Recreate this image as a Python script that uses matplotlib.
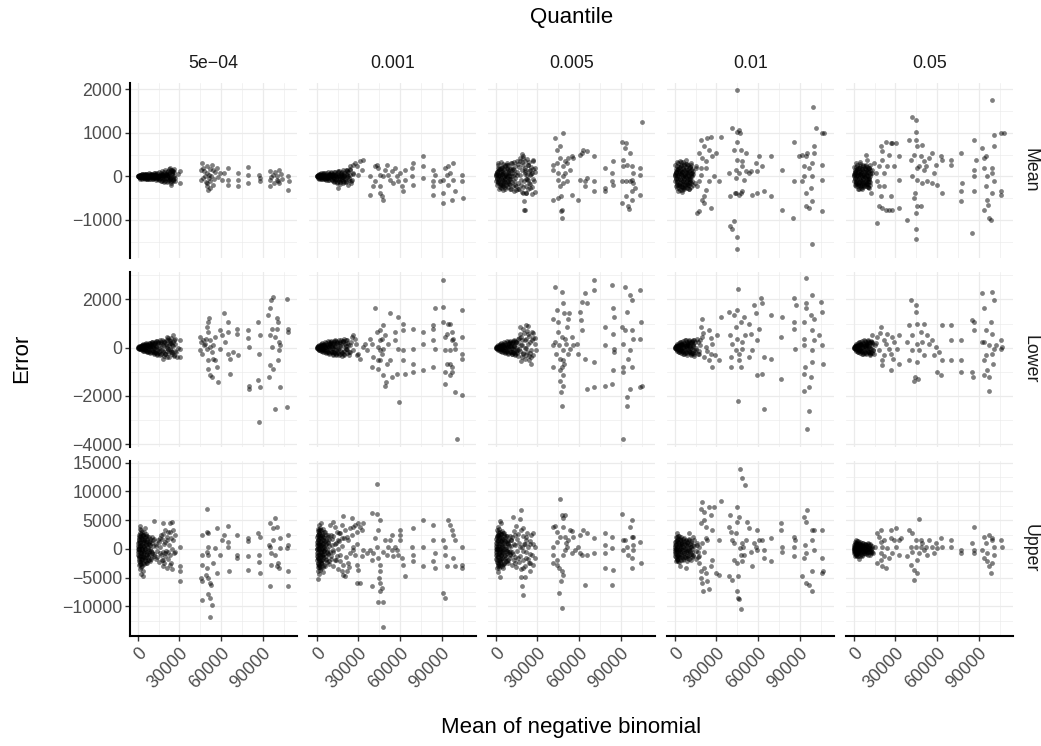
import matplotlib
matplotlib.use("Agg")
import matplotlib.pyplot as plt
from matplotlib.ticker import FixedLocator, FixedFormatter

plt.rcParams['font.family'] = ['Liberation Sans', 'DejaVu Sans']

# facet labels
quantiles = ["5e\u221204", "0.001", "0.005", "0.01", "0.05"]
stats = ["Mean", "Lower", "Upper"]

# points: (mean of negative binomial in thousands, error)
# ---- row "Mean" ----
mean_5e04 = [
    (0.5, 0), (1, 20), (1, -20), (1.5, 40), (2, -30), (2.5, 10), (3, 50), (3, -50), (3.5, 0), (4, 30),
    (4.5, -40), (5, 60), (5, -10), (6, 20), (6.5, -60), (7, 40), (7.5, -20), (8, 70), (8.5, 0), (9, -50),
    (9.5, 30), (10, -70), (10.5, 50), (11, -10), (11.5, 80), (12, -40), (12.5, 20), (13, -80), (13.5, 60),
    (14, 0), (14.5, -30), (15, 90), (15.5, -60), (16, 40), (16.5, -100), (17, 10), (17.5, 120), (18, -80),
    (18.5, 60), (19, -130), (19.5, 30), (20, 150), (20.5, -40), (21, 90), (21.5, -110), (22, 0), (22.5, 180),
    (23, -60), (23.5, 100), (24, -150), (24.5, 50), (25, 130), (25.5, -20), (26, 170), (26.5, -100),
    (20.9, 38), (23.3, 190), (24.5, 150), (25.7, 114), (25.7, -114), (23.8, -190), (30.5, 114), (30.5, -150),
    (29, 61), (46, 305), (45.6, 150), (45.6, -76), (49.7, -230), (50.9, -305), (52, -267), (48.6, 0),
    (49.7, 76), (53.3, 267), (54.5, 150), (57, 190), (59.3, 76), (60.5, -76), (62, 76), (65, 190), (65, -76),
    (65, -190), (72, 76), (72, -76), (72, -230), (79.7, 206), (79.7, 38), (79.7, -150), (87, 38), (88, -38),
    (88, -114), (95, 114), (95, -76), (95, -230), (97.7, 38), (100, 0), (101, -114), (102, 150), (102, -150),
    (108.5, 0), (109, -114), (108.5, -305), (47, -40), (48, 120), (50, -150), (51, 40), (52, -100), (53, 10),
    (55, -60), (56, 90), (58, -20), (47, 200), (50, 230), (54, -200), (51, -30), (49, -120), (52, 180),
    (96, -20), (98, -150), (99, 100), (103, 60), (104, -60), (100, -80),
]
mean_001 = [
    (0.5, 0), (1, 30), (1, -30), (1.5, 60), (2, -50), (2.5, 10), (3, 70), (3, -70), (3.5, 20), (4, -20),
    (4.5, 50), (5, -60), (5.5, 80), (6, 0), (6.5, -80), (7, 40), (7.5, -40), (8, 90), (8.5, -10), (9, -90),
    (9.5, 50), (10, -50), (10.5, 100), (11, 0), (11.5, -100), (12, 60), (12.5, -130), (13, 20), (13.5, 110),
    (14, -70), (14.5, -150), (15, 40), (15.5, 130), (16, -110), (16.5, 0), (17, -180), (17.5, 80), (18, -60),
    (19, 150), (19.5, -130), (20, 30), (21, -100), (22, 120), (23, -40), (24, 180), (25, -150), (26, 60),
    (15.6, -267), (21.6, 150), (24, 230), (26.4, 267), (27.6, 305), (28.8, 230), (31.2, 343), (33.6, 381),
    (26.4, 76), (30, 38), (22.8, 0), (25.2, -76), (19.2, -114), (32.4, 150),
    (38.4, 0), (38.4, -420), (40.8, -230), (42, -114), (42, 230), (43.2, 267), (44.4, 190), (45.6, 38),
    (45.6, -230), (45.6, -380), (46.8, -460), (48, -534), (48, 0), (49.2, 150), (50.4, 267), (51.6, 38),
    (52.8, -76), (54, 114), (55.2, -150), (56.4, 190), (57.6, 0), (58.8, -114), (60, 76), (61.2, -230),
    (62.4, -343), (63.6, 150), (63.6, -76), (68.4, 0), (68.4, 190), (69.6, 305), (69.1, -190), (76.8, 458),
    (76.8, 230), (76.8, -38), (84, 150), (84, -114), (84, -230), (84, -420), (85.2, 38), (91.2, -610),
    (91.2, -380), (91.2, -76), (92.4, 190), (93.6, 38), (94.8, -190), (96, 76), (97.2, -534), (98.4, 305),
    (98.4, -76), (99.6, -343), (104.4, 38), (104.4, -114), (105, -496), (94.8, 230), (88.8, -114),
]
mean_005 = [
    (0.5, 0), (1, 60), (1, -60), (1.5, 130), (2, -120), (2.5, 20), (3, 180), (3, -180), (3.5, 60), (4, -40),
    (4.5, 220), (5, -220), (5.5, 100), (6, -100), (6.5, 250), (7, -250), (7.5, 0), (8, 160), (8.5, -160),
    (9, 260), (9.5, -50), (10, 80), (10.5, -280), (11, 200), (11.5, -130), (12, 300), (12.5, 0), (13, -330),
    (13.5, 150), (14, -200), (15, 350), (15.5, 40), (16, -300), (17, 220), (18, -80), (19, 320), (20, -250),
    (21, 100), (22, -380), (23, 260), (24, -150), (25, 30), (26, -250), (27, 170), (1.5, 300), (2.5, -280),
    (4, 330), (5, -320),
    (19.2, 525), (19.7, 467), (20.9, 344), (21.6, -66), (22, -377), (20.2, -574), (20.9, -779), (23.3, 262),
    (24.5, 139), (25.7, 57), (26.9, 344), (28, 98), (28, -353), (14.9, -230), (17.3, 426), (20, 420),
    (21, 150), (22.3, 38), (23.5, -76), (20, -381), (20.4, -763), (24.7, -267), (27, 381), (28.3, 190),
    (27.6, -114),
    (41, 267), (41.5, 150), (41.5, -534), (42.7, 877), (43.9, 610), (44.4, 305), (45.1, 76), (45.1, -76),
    (45.1, -496), (46.3, 687), (46.3, 420), (46.3, -230), (46.8, -458), (46.8, -801), (47.5, -763),
    (48, -954), (48.7, 992), (48.7, 229), (48.7, 0), (48.7, -153), (49.9, 343), (49.9, 76), (51.1, 305),
    (51.1, -114), (52.3, 420), (53.5, 153), (54.7, 458), (54.7, -420), (55.9, 420), (59.5, -534),
    (60.7, 496), (60.7, -76), (61.9, 534), (63.1, 610), (64.3, -114), (64.3, -230), (65.5, 572),
    (65.5, -38), (71, 458), (71, -114), (71, -343), (78.7, 190), (78.7, -267), (78.7, -343), (83.5, 76),
    (83.5, -114), (84.7, 343), (84.7, -190), (90.7, 800), (90.7, -114), (90.7, -610), (91.9, 229),
    (93.1, 648), (93.8, 763), (94.3, 267), (93.8, -114), (93.8, -458), (95.5, -687), (96.2, -748),
    (96.7, 534), (96.7, -114), (97.9, 229), (97.9, -76), (97.9, -343), (97.9, -534), (99.1, 76),
    (100.3, -267), (103.9, 190), (103.9, 38), (103.9, -420), (105.1, 1259), (99.1, -153), (91.9, 381),
]
mean_01 = [
    (0.5, 0), (1, 70), (1, -70), (1.5, 150), (2, -140), (2.5, 30), (3, 210), (3, -200), (3.5, 70), (4, -50),
    (4.5, 250), (5, -240), (5.5, 110), (6, -110), (6.5, 280), (7, -270), (7.5, 0), (8, 180), (8.5, -180),
    (9, 290), (9.5, -60), (10, 90), (10.5, -300), (11, 220), (11.5, -150), (12, 250), (12.5, 0), (13, -200),
    (13.5, 120), (1.5, 320), (2.5, -330), (4, 350), (5, -350), (6, 330), (7, -300),
    (7.9, 381), (12.7, 76), (15.1, 229), (16.3, -229), (16.3, -839), (17.5, 534), (17.5, -114), (18.7, 839),
    (18.7, 38), (19.9, 420), (19.9, -534), (21.1, 687), (21.1, -458), (21.1, -610), (22.3, 190),
    (22.3, -305), (22.8, 343), (23.5, 877), (24.7, 610), (24.7, -114), (25.9, 916), (25.9, -725),
    (27.1, 458), (28.3, 0), (29.5, 534), (31.9, -114), (33.1, 916), (17.5, -801), (18.7, 190),
    (39.1, 76), (39.6, -458), (39.6, -1145), (41, 1106), (41.5, -1221), (42.7, -1030), (42.7, 610),
    (43.4, -381), (43.9, -38), (43.9, 153), (44.4, -381), (45.1, 1030), (45.1, 1984), (45.1, 801),
    (45.1, 381), (45.1, -1389), (45.1, -1679), (46.3, 1068), (46.3, 76), (46.3, -420), (46.8, 992),
    (47.5, 610), (47.5, -381), (48.2, 343), (48.7, 229), (48.7, -343), (49.9, -76), (51.1, 534),
    (51.6, 114), (53.5, 76), (54.7, 114), (55.9, -420), (58.3, 305), (59.5, 114), (59.5, -381),
    (60.7, 458), (63.1, 229), (64.3, -343), (69.1, 473), (69.1, -458), (77.5, 153), (77.5, -763),
    (86.1, 801), (86.1, -114), (85.2, -954), (92, 496), (93.1, 229), (93.1, 0), (94.3, 458), (94.3, -381),
    (94.3, -687), (95.5, 534), (96.7, 190), (96.7, -725), (97.9, -267), (99.1, 305), (99.1, 0),
    (99.1, -572), (99.6, 1602), (99.1, -1564), (100.3, 687), (100.3, 534), (101.5, 1106), (106.3, 992),
    (106.3, 267), (106.3, -76), (106.3, -801), (107.5, 992), (89.6, 458), (91.5, -114),
]
mean_05 = [
    (0.5, 0), (1, 60), (1, -60), (1.5, 130), (2, -120), (2.5, 30), (3, 190), (3, -180), (3.5, 60), (4, -40),
    (4.5, 230), (5, -220), (5.5, 100), (6, -100), (6.5, 250), (7, -240), (7.5, 0), (8, 160), (8.5, -160),
    (9, 260), (9.5, -50), (10, 90), (10.5, -250), (11, 200), (11.5, -120), (12, 150), (2, 300), (3, -300),
    (4.5, 330), (6, -300),
    (8.6, 496), (9.8, 381), (11, -267), (12.2, -381), (13.4, 153), (14.6, 305), (15.8, 76), (17, -114),
    (17, -1068), (18.2, 229), (18.2, -229), (18.2, -687), (19.4, 687), (19.4, -458), (20.6, 572),
    (20.6, -725), (20.6, 381), (21.8, 76), (21.8, -229), (23, -763), (23, 801), (24.2, 229), (25.4, -763),
    (25.4, 496), (26.6, 763), (26.6, -458), (27.8, 763), (27.8, -763), (29, 229), (30.2, 763), (32.6, -76),
    (32.6, 458), (32.6, -725),
    (38.6, -992), (39.8, 839), (41, 381), (42.2, 1373), (42.2, 0), (43.4, 496), (43.4, -496), (44.2, -381),
    (44.6, 1297), (44.6, 1030), (44.6, 839), (44.6, -839), (44.6, -1221), (44.6, -1450), (45.8, 190),
    (45.8, 687), (45.8, -76), (45.8, -687), (47, 229), (48.2, 458), (48.2, -687), (49.4, 725), (49.4, -153),
    (50.6, 343), (50.6, 153), (51.8, 229), (53, -114), (54.2, 420), (56.6, 534), (56.6, -153), (57.8, 76),
    (59, 267), (60.2, -190), (62.6, 458), (63.8, 381), (63.8, -381), (69.8, 381), (69.8, 267), (77, 534),
    (77, -343), (77, -572), (78.2, -153), (85.4, -1297), (86.6, 153), (86.6, 0), (86.6, -343), (87.8, 381),
    (86.6, 839), (92.6, 648), (93.8, 420), (93.8, 190), (95, 458), (96.2, 0), (95, -229), (96.2, -534),
    (97, -648), (97.4, -954), (98.6, -992), (99.8, 1755), (99.8, 76), (99.8, -381), (101, 687), (101, 954),
    (101, -114), (99.8, 190), (105.8, 992), (105.8, -420), (105.8, -343), (108.2, 992), (93.8, -763),
]

# ---- row "Lower" ----
lower_5e04 = [
    (0.5, 0), (1, 40), (1, -40), (1.5, 80), (2, -60), (2.5, 20), (3, 120), (3, -100), (3.5, 0), (4, 150),
    (4.5, -140), (5, 60), (5, -40), (6, 180), (6.5, -170), (7, 90), (7.5, -60), (8, 210), (8.5, 10),
    (9, -200), (9.5, 120), (10, -100), (10.5, 240), (11, -20), (11.5, -250), (12, 150), (12.5, -180),
    (13, 280), (13.5, 40), (14, -300), (14.5, 200), (15, -120), (16, 300), (17, -260), (18, 100), (19, -350),
    (20, 250), (21, -150), (22, 380), (23, -60), (24, 200), (26, -300), (27, 350), (29, 0),
    (20.9, 445), (22.5, 300), (25.7, 514), (26.8, -140), (28, -390), (30.5, 306), (30.5, -50), (20.9, -390),
    (18.5, -460), (24.5, -250), (25.7, 236), (30.5, -390),
    (44.9, 445), (45.6, 236), (46, -250), (45, -111), (49.7, 862), (50.9, 1070), (51.6, 1210), (50.9, 653),
    (52, 306), (48.5, 167), (49.7, -42), (50.9, -528), (50.4, -876), (52, -1154), (53.3, -1223),
    (54.5, -459), (55.7, -528), (56.9, -806), (58, -1432), (59.3, -42), (59.3, 723), (60.5, 514),
    (62, 1446), (62.9, 236), (65, 1070), (65, 653), (65, -250), (66.5, -1084), (66.5, -459), (68.9, -180),
    (71.8, 792), (71.8, 584), (72, -320), (79.7, 723), (79.7, 417), (80.4, 28), (80.4, -1570),
    (80.4, -1710), (86.9, 1070), (88, 514), (87.6, -250), (88, -1640), (86.9, -1320), (87.6, -3100),
    (94, 1348), (95.3, 1626), (95.8, 1973), (97.7, 2085), (96.5, 792), (95.3, 514), (96.5, 28),
    (95.3, -737), (94.8, -1223), (97.7, -876), (98.9, -2544), (100, 1210), (100, 792), (101, 1070),
    (102, 236), (102, -111), (102.5, -1640), (101, -528), (107.8, 2000), (108.5, 792), (108.5, 653),
    (107.8, -2474), (102.5, 97), (98.9, 445), (47.3, 306), (47.8, 97), (49.2, 375), (52, 28), (54.5, 97),
    (55.7, 445), (53.3, -180),
]
lower_001 = [
    (0.5, 0), (1, 50), (1, -50), (1.5, 100), (2, -100), (2.5, 30), (3, 150), (3, -150), (3.5, 0), (4, 200),
    (4.5, -180), (5, 80), (5, -60), (6, 230), (6.5, -230), (7, 120), (7.5, -90), (8, 270), (8.5, 20),
    (9, -260), (9.5, 160), (10, -120), (10.5, 280), (11, -20), (11.5, -290), (12, 170), (12.5, -190),
    (13, 300), (13.5, 60), (14, -300), (14.5, 210), (15, -100), (16, 320), (16.5, -250), (17, 80),
    (18, -330), (19, 250), (19.5, -150), (20, 350), (21, -50), (22, 200), (23, -300), (24, 100),
    (25.2, 445), (26.4, 514), (27.6, 375), (28.8, -320), (31.2, -459), (24, -180), (21.6, 306), (33.6, 28),
    (34.8, 167), (36, -111), (38.4, 375), (39.6, 167), (39.6, -806), (40.8, -390),
    (42, 1626), (43.2, 653), (44.4, 28), (44.4, -528), (44.4, -876), (45.6, 723), (45.6, 306), (45.6, -111),
    (45.6, -528), (46.8, 375), (46.8, -250), (48, 931), (48, -42), (48, -1154), (49.2, 514), (49.2, -1570),
    (49.7, -1432), (50.4, -667), (51.6, 167), (52.8, 1418), (52.8, -528), (54, -1223), (56.4, 653),
    (56.4, 306), (57.6, -1084), (58.8, -42), (58.8, 1279), (59.5, -2266), (62.4, 1001), (62.4, 723),
    (62.4, -111), (62.4, -528), (63.6, -1084), (69.6, 792), (69.6, -42), (69.6, -1015), (69.6, -667),
    (76.8, 167), (76.8, -945), (76.8, 653), (84, 931), (84, 306), (84, 792), (85.2, 1626), (85.2, -42),
    (84, -806), (91.2, 1696), (91.2, 1070), (92.4, 445), (92.4, -111), (93.6, 584), (94.8, 1001),
    (96, -111), (96, -667), (97.2, 653), (97.2, -1015), (97.7, -806), (96, -1154), (98.4, 375),
    (99.6, 167), (99.6, -42), (92.4, -1015), (92.4, -1500), (93.6, -667), (91.2, 2808), (99.6, -1850),
    (100.8, -3795), (104.4, 1557), (104.4, 445), (104.4, -250), (104.4, -459), (104.4, -1960), (96, 1001),
    (97.2, 306),
]
lower_005 = [
    (0.5, 0), (1, 40), (1, -40), (1.5, 90), (2, -90), (2.5, 20), (3, 140), (3, -140), (3.5, 0), (4, 190),
    (4.5, -170), (5, 70), (5, -60), (6, 220), (6.5, -230), (7, 110), (7.5, -100), (8, 270), (8.5, 20),
    (9, -260), (9.5, 150), (10, -120), (10.5, 290), (11, -30), (11.5, -280), (12, 180), (12.5, -200),
    (13, 300), (13.5, 60), (14, -300), (14.5, 220), (15, -100), (16, 350), (17, -50),
    (17.3, 847), (19.7, 770), (22, 924), (23.3, 878), (20.9, 308), (19.7, -231), (18.5, -539), (26.9, 385),
    (28, 154), (25.7, -385), (24.5, -231), (21.6, 0), (28.8, -77), (25.7, -693), (18, 450), (23, 550),
    (24, -500), (19, 100), (27, 620), (22, -300),
    (42.7, 2530), (41.5, 1209), (41.5, 97), (41.5, -806), (42.7, 236), (43.4, -250), (44, 1557),
    (45.1, 1070), (45.1, 653), (45.8, 97), (46.3, -459), (46.3, -945), (46.3, -1362), (46.8, -1849),
    (47.5, 2321), (47.5, 445), (47.5, -806), (48.2, -528), (48.2, -1154), (48.7, 1835), (49.2, 1418),
    (48.7, -111), (49.2, -667), (49.9, 375), (48.7, -1570), (47.5, -2432), (50.6, 167), (51.1, 862),
    (52.3, 1209), (52.3, -250), (53, 1418), (53.5, -42), (54.7, 445), (55.9, 97), (58.3, 167),
    (59.5, -250), (60.7, 1487), (61.2, 1140), (61.9, 1904), (61.9, 723), (64.3, 2252), (64.3, -459),
    (65.5, 1835), (65.5, -1710), (71, 2808), (71, 2391), (71, -598), (71, -1640), (78.7, 862), (78.7, 97),
    (78.7, -1570), (83.5, 2600), (84.7, 1626), (85.2, 1279), (84.7, 584), (85.2, -42), (84.7, -945),
    (85.2, -180), (83.5, -1500), (90.7, 862), (91.9, 167), (91.9, -806), (91.9, -1015), (93.1, 2530),
    (93.1, 723), (94.3, 1487), (95.5, -459), (96.7, 2182), (96.7, -1710), (97.9, 1974), (97.9, 723),
    (97.9, -806), (99.1, 375), (94.3, -2057), (94.8, -2405), (91.9, -3795), (103.9, 2391), (104.4, 1070),
    (103.9, 375), (105.1, -1570), (103.9, -1640), (96.7, -111),
]
lower_01 = [
    (0.5, 0), (1, 60), (1, -60), (1.5, 120), (2, -120), (2.5, 30), (3, 180), (3, -180), (3.5, 0), (4, 230),
    (4.5, -210), (5, 90), (5, -80), (6, 270), (6.5, -260), (7, 130), (7.5, -110), (8, 300), (8.5, 20),
    (9, -290), (9.5, 170), (10, -140), (10.5, 310), (11, -30), (11.5, -300), (12, 190), (12.5, -210),
    (13, 320), (13.5, 60), (14, -330), (14.5, 230), (15, -100), (16, 350), (17, -280), (18, 120),
    (19.9, 1209), (18.7, 862), (19.9, 445), (22.3, 28), (17.5, -250), (21.1, -390), (24.7, 723),
    (24.7, -528), (25.9, -250), (27.1, 167), (30.7, 514), (33.1, 1279), (31.9, -528), (27.1, -806),
    (20.5, 600), (23, -150), (26, 400), (18, 300), (29, -300),
    (39.1, 1487), (39.6, 514), (40.3, -390), (40.3, -806), (41.5, 167), (42.7, 1348), (43.9, 862),
    (43.9, -111), (45.1, 1557), (45.1, 375), (45.8, 2432), (45.8, -2196), (46.3, -250), (46.3, -528),
    (47.5, 1070), (47.5, -806), (48.7, 236), (48.7, -42), (49.9, 1279), (50.6, 514), (53.5, 1001),
    (53.5, -390), (54.7, 584), (55.9, -111), (57.1, 1765), (58.8, 1418), (59.5, 306), (59.5, -1154),
    (60.7, 792), (61.9, 2043), (63.1, -1084), (63.1, 1835), (64.3, -390), (64.3, -2544), (69.1, 1348),
    (69.1, -459), (76.3, 445), (76.3, -1293), (77.5, 1279), (86.1, 2043), (86.1, 1070), (86.1, 792),
    (86.9, -42), (87.6, 1765), (93.1, 1070), (93.1, 375), (93.1, 97), (94.3, 1835), (94.3, 1626),
    (93.1, -1084), (93.8, -806), (93.1, -1779), (96.7, -1640), (96.7, -2613), (95.5, -3378), (97.9, 1348),
    (99.1, 2182), (99.1, 723), (100.3, 1209), (100.3, 306), (99.1, -111), (98.6, -598), (97.9, -1223),
    (94.3, 2877), (105.1, 1904), (106.3, 1487), (106.3, 97), (106.8, -667), (103.9, 514),
]
lower_05 = [
    (0.5, 0), (1, 60), (1, -60), (1.5, 120), (2, -120), (2.5, 30), (3, 180), (3, -170), (3.5, 0), (4, 230),
    (4.5, -210), (5, 90), (5, -80), (6, 260), (6.5, -250), (7, 130), (7.5, -110), (8, 290), (8.5, 20),
    (9, -280), (9.5, 170), (10, -140), (10.5, 300), (11, -30), (11.5, -290), (12, 190), (12.5, -200),
    (13, 250), (14, -100),
    (13.4, 514), (17, 445), (18.2, -111), (19.4, 862), (20.6, -528), (20.6, -737), (21.8, 306), (23, 167),
    (24.2, 584), (25.4, -42), (26.6, -250), (26.6, -945), (27.8, 445), (29, 236), (32.6, 514), (32.6, -667),
    (31.4, -42), (16, 200), (22, -300), (28, -450), (19, 600),
    (38.6, 236), (39.8, 931), (39.8, -528), (41, 1974), (42.2, 514), (42.2, -111), (43.4, -1362),
    (44.2, -1223), (44.6, 1765), (44.6, 1487), (45.8, 1001), (45.8, 167), (45.8, -598), (46.6, -1293),
    (47, -111), (48.2, 653), (49.4, 236), (50.6, 1001), (50.6, -320), (53, 514), (54.2, 167), (56.6, 306),
    (57.8, -320), (59, 28), (60.2, -1015), (61.4, -180), (62.6, -1154), (63.8, 931), (63.8, -528),
    (69.8, 931), (69.8, 306), (69.8, -528), (77, 306), (77, -528), (77, -1015), (85.4, 1140), (86.6, 1070),
    (85.4, -1015), (85.9, -1223), (86.6, 723), (92.6, 2252), (92.6, 236), (93.8, 1626), (93.8, 236),
    (93.8, -528), (93.8, -1154), (95, -320), (96.2, -945), (97.4, -1223), (97.4, -1779), (98.6, 1070),
    (99.8, 2321), (99.8, 584), (99.8, -250), (100.3, -667), (101, 1974), (101, -42), (102.2, 97),
    (105.8, 306), (105.8, -42), (107, 28), (95, 723), (97.4, 97),
]

# ---- row "Upper" ----
upper_5e04 = [
    (0.5, 0), (0.8, 1500), (0.8, -1500), (1, 2500), (1, -2800), (1.3, 500), (1.5, -500), (1.8, 3500),
    (2, -3500), (2, 1000), (2.2, -1200), (2.5, 2000), (2.5, -2200), (3, 0), (3, 3000), (3, -3000),
    (3.5, 1500), (3.5, -1500), (4, 2500), (4, -4700), (4, 500), (4.5, -800), (5, 2000), (5, -2000),
    (5.5, 0), (6, 1200), (6, -1400), (6.5, 2200), (7, -500), (7, -2500), (7.5, 800), (8, -1000),
    (8.5, 1800), (9, 0), (9.5, -1700), (10, 1000), (10.5, -600), (11, 1500), (12, -1200), (13, 500),
    (14, -1500), (15, 1200), (16, -800), (17, 2500), (18, -2000), (19, 800), (20, -1200), (21, 2000),
    (22, -500), (23, 3000), (24, -2500), (25, 0), (1.5, 4000), (2.5, -4400), (5, 3700), (3.5, -3800),
    (12, 4830), (18.5, 4430), (23.3, 4430), (24.5, 4715), (20, 3280), (20.9, 1550), (19.7, -750),
    (20.9, -3335), (23.3, -2760), (25.7, 1550), (26.9, 2415), (26.9, -460), (30.5, 400), (30.5, -3050),
    (30.5, -3900), (30.5, -5635), (16, 1840), (17.3, -1900), (18.5, -3050),
    (46, 2415), (46, -1035), (46, -2760), (45.4, -5060), (46, -5635), (46, -8970), (49.7, 7015),
    (49.7, 2990), (50.9, 2700), (50.4, 400), (49.7, -460), (50.9, -1035), (49.7, -3335), (49.2, -4485),
    (50.9, -5060), (52, -5920), (52.5, -6210), (50.9, -7935), (52, -8510), (53.3, -9775), (52, -11845),
    (54.5, -2470), (56.9, 3565), (57.4, -4200), (55.7, 115), (59.3, -1035), (60.5, 1550), (62, 2415),
    (65, 3970), (65, 1265), (65, 400), (65.5, -3910), (71.8, 2415), (71.8, -1035), (71.8, -1610),
    (79.7, 1840), (79.7, 1380), (79.7, -1320), (79.7, -3620), (86.9, 2700), (88, 2130), (87.6, -1035),
    (87.6, -2360), (88, -4200), (95.3, 4430), (94.8, 690), (95.3, 400), (95.8, -750), (95.3, -6500),
    (95.8, -2760), (98.9, 5460), (97.7, 3565), (100, 3850), (97.7, 1550), (98.9, -1035), (101, -2470),
    (100, -3050), (102.5, 1840), (102.5, 115), (102, -3335), (108.5, 2415), (108.5, 690), (107.8, 115),
    (108.5, -3910), (108.5, -6380),
]
upper_001 = [
    (0.3, 0), (0.5, 2000), (0.5, -2000), (0.8, 3500), (0.8, -3800), (1, 1000), (1, -1000), (1.3, 2800),
    (1.3, -2800), (1.5, 0), (1.8, 1800), (1.8, -1700), (2, 4200), (2, -4300), (2.2, 600), (2.5, -600),
    (2.5, 2500), (2.8, -2500), (3, 1400), (3, -3300), (3.3, 3200), (3.5, -1200), (3.5, 200), (4, 2200),
    (4, -2000), (4.3, -400), (4.5, 900), (5, -2800), (5, 3000), (5.5, -900), (5.5, 1600), (6, 0),
    (6.5, -1800), (7, 2400), (7.5, -500), (8, 1200), (8.5, -2200), (9, 500), (10, -1200), (11, 1800),
    (12, -600), (13, 900), (14, -2000), (15, 0), (16, 1300), (1.2, -5200), (2.8, 4500), (4.2, -4000),
    (8.4, 2130), (9.6, 4140), (12, 4715), (13.2, 3850), (14.4, 2990), (15.6, 1550), (16.8, 2700),
    (18, 1840), (18, 4140), (19.2, 5690), (20.4, 3280), (21.6, 2130), (22.8, 1550), (24, 3565),
    (25.2, 5290), (25.2, 2415), (26.4, 3850), (27.6, 4140), (28.8, 2990), (30, 4430), (31.2, 3740),
    (32.4, 3280), (33.6, 4430), (12, -170), (14.4, -1320), (16.8, -2185), (18, -3910), (19.2, -4485),
    (20.4, -4770), (21.6, -3910), (22.8, -2470), (24, -750), (26.4, 400), (27.6, -1035), (28.8, -2760),
    (30, -3620), (28.8, -5920), (31.2, -5920), (32.4, -1320), (33.6, -170), (36, -750), (38.4, -170),
    (39.6, -1900), (40.8, -750), (39.6, -6500), (39.6, 6325), (43.2, 6150), (44.4, 3280), (45.6, 5000),
    (43.2, 11330), (42, 1840), (43.2, 400), (44.4, -1610), (45.6, -2760), (45.6, -3910), (45.1, -5060),
    (45.6, -5920), (46.8, -6785), (45.6, -7360), (44.4, -9260), (48, -9260), (48, -13570), (48, -460),
    (49.2, 1550), (50.4, -1035), (51.6, 400), (52.8, 1550), (54, 2415), (54, -170), (55.2, -1320),
    (56.4, 400), (57.6, -170), (58.8, -1035), (60, 2415), (60, 1550), (61.2, -1610), (62.4, -2760),
    (63.6, -4770), (60, 3280), (68.4, 400), (69.6, -1035), (69.6, 3565), (69.6, -2185), (76.8, 5000),
    (76.8, 400), (76.8, -3050), (84, 4140), (84, 1550), (84, -2185), (85.2, -750), (85.2, -3335),
    (91.2, 1550), (92.4, 400), (92.4, -1035), (91.2, -7650), (92.4, -8500), (93.6, -3050), (94.8, 5000),
    (96, 4140), (97.2, 3280), (98.4, 2415), (98.4, -1610), (99.6, -3050), (99.6, 1550), (104.4, 400),
    (104.4, -2760), (104.4, -3335),
]
upper_005 = [
    (0.3, 0), (0.5, 1800), (0.5, -1800), (0.8, 3200), (0.8, -3300), (1, 900), (1, -900), (1.3, 2500),
    (1.3, -2600), (1.5, 0), (1.8, 1600), (1.8, -1500), (2, 3800), (2, -4000), (2.2, 500), (2.5, -500),
    (2.5, 2200), (2.8, -2300), (3, 1300), (3, -3000), (3.3, 2900), (3.5, -1100), (3.5, 200), (4, 2000),
    (4, -1800), (4.5, -300), (4.5, 800), (5, -2600), (5, 2700), (5.5, -800), (6, 1500), (6.5, 0),
    (7, -1700), (7.5, 2200), (8, -400), (8.5, 1000), (9, -2000), (9.5, 500), (10, -1000), (11, 1600),
    (12, -500), (13, 900), (14, -1500),
    (3.4, 4880), (4, 4575), (12.5, 5490), (17.3, 5185), (18.5, 6710), (19.7, 3660), (14.9, 3965),
    (13.7, 2440), (22, 2135), (24.5, 915), (26.9, 2745), (28, 305), (20.9, 915), (19.7, -305), (22, -1525),
    (24.5, -2440), (19.7, -3355), (18.5, -4880), (20.9, -4880), (18.6, -6405), (19.7, -8050),
    (26.9, -2745), (28, -1525), (24.5, -915), (17.3, 305), (16, -1525), (13.7, -2440), (10, -305),
    (11.3, 1525), (5.3, -3355), (3.4, -4880),
    (41.5, 3740), (42.7, 3970), (44, 2990), (46.3, 8740), (47.5, 5865), (48.7, 5290), (49.9, 5865),
    (48.2, 3740), (46.3, 2130), (44, 1265), (41.5, 400), (41, -1035), (41.5, -2470), (44, -1900),
    (44.4, -2760), (45.8, -3335), (47.5, -3910), (48.2, -4485), (46.8, -5635), (45.8, -7760),
    (47.5, -10235), (48.7, -1035), (49.9, -170), (49.9, 2130), (50.6, 980), (51.1, 400), (52.3, 1550),
    (53.5, 3280), (54.7, 3160), (55.9, 2130), (54.7, -750), (57.1, -170), (59.5, 400), (60.7, 2415),
    (60.7, -750), (61.9, -1035), (63.1, 3280), (64.3, -6210), (65.5, 2700), (65.5, -1035), (71, 1840),
    (71, -750), (78.7, 2700), (78.7, 690), (78.7, -750), (78.7, -3335), (83.5, 2130), (83.5, 115),
    (84.2, -3620), (83.5, -6210), (90.7, 6150), (91.9, 1550), (91.9, -170), (93.1, 1550), (94.3, 400),
    (95.5, -1035), (96.7, 3740), (97.9, 5000), (97.9, 2130), (97.9, -1610), (97.9, -3335), (99.1, 690),
    (99.1, -170), (103.9, 1265), (104.4, -2470), (99.1, 2130),
]
upper_01 = [
    (0.3, 0), (0.5, 1200), (0.5, -1200), (0.8, 2000), (0.8, -2100), (1, 600), (1, -600), (1.5, 1600),
    (1.5, -1700), (2, 0), (2.5, 1000), (2.5, -1000), (3, 2200), (3, -2300), (3.5, 300), (4, -300),
    (4.5, 1500), (5, -1500), (5.5, 800), (6, -2000), (6.5, 1900), (7, -700), (7.5, 200), (8, 1300),
    (8.5, -1200), (9, -200), (9.5, 600), (10, -1800), (10.5, 1800), (11, -500), (12, 1000), (12.5, 0),
    (13, -1100), (14, 1500), (15, -300), (16, 700), (17, -1500), (2, 2800), (4, -2900),
    (10.3, 2700), (9.1, -2185), (7.9, -3335), (17.5, 400), (18.7, 4430), (18.7, 7015), (19.9, 8165),
    (21.1, 5000), (21.1, 6440), (22.3, 3850), (22.3, 1840), (23.5, 1550), (24.7, 7300), (25.9, 5865),
    (27.1, 3280), (28.3, 7300), (31.9, 1550), (33.1, 8340), (17.5, -1320), (17.5, -2470), (18.7, -3910),
    (18.7, -5060), (19.9, -5920), (20.4, -7360), (21.1, -3335), (22.3, -4200), (23.5, -5635),
    (24.7, -7070), (25.9, -3050), (27.1, -1900), (29.5, -4200), (31.9, -4485), (21.1, -460), (19.4, 980),
    (39.1, 3740), (39.6, 5865), (39.1, -4770), (40.3, 2990), (41.5, 1550), (41.5, -5350), (42.7, 980),
    (42.7, -1900), (43.9, 2700), (45.1, 7300), (45.1, 4715), (45.1, -2470), (45.8, -4770), (45.1, -7360),
    (45.8, -8510), (46.3, -8800), (47.5, -10520), (46.3, 5580), (46.8, 115), (47.5, -1035), (48.2, -2185),
    (48.7, 980), (49.2, 400), (49.9, -1035), (51.1, 1550), (52.3, 4715), (53.5, 3565), (54.7, -460),
    (55.9, -3050), (57.1, 980), (58.3, 400), (59.5, 3280), (59.5, -170), (60.7, 1550), (63.1, 1550),
    (64.3, -170), (64.3, -1610), (69.1, 1840), (69.1, -2185), (76.3, 4430), (76.3, 3280), (77.5, 400),
    (77.5, -460), (86.1, 2130), (86.1, 400), (86.1, -1320), (86.9, 1550), (93.1, 5580), (94.3, 4715),
    (95.5, 6725), (93.8, 690), (94.3, -750), (93.1, -1610), (92, -4770), (94.3, -5920), (96.7, -6210),
    (98.6, -7360), (99.1, 1550), (99.1, -3910), (100.3, 3280), (100.3, -170), (99.1, 3280), (106.3, 3280),
    (106.3, -1610), (106.8, -3910), (106.3, -4200), (46.8, 13900), (48.5, 12300), (50.5, 11100),
]
upper_05 = [
    (0.3, 0), (0.5, 700), (0.5, -700), (0.8, 1200), (0.8, -1200), (1, 300), (1, -300), (1.5, 1000),
    (1.5, -1000), (2, 0), (2.5, 600), (2.5, -600), (3, 1300), (3, -1300), (3.5, 200), (4, -200),
    (4.5, 900), (5, -900), (5.5, 500), (6, -1200), (6.5, 1100), (7, -400), (7.5, 100), (8, 800),
    (8.5, -700), (9, -100), (9.5, 400), (10, -1100), (10.5, 1000), (11, -300), (12, 600), (12.5, 0),
    (13, -600), (1.5, 1600), (3.5, -1700),
    (13.4, 115), (17, 2700), (17, -2470), (18.2, 2130), (19.4, 3280), (19.4, 1265), (19.4, -750),
    (19.4, -1900), (20.6, 400), (20.6, -3050), (21.8, 1550), (21.8, -1320), (23, -3335), (24.2, 115),
    (25.4, -1610), (26.6, 1840), (26.6, 3280), (27.8, -750), (29, 1550), (30.2, 400), (32.6, 1550),
    (32.6, -1035), (33.8, 1840), (30.2, 3565),
    (38.6, -1320), (39.8, 3280), (41, 400), (41, -2760), (42.2, -460), (42.2, 2700), (43.4, -3620),
    (43.4, -5350), (44.6, 1550), (44.6, 400), (45.8, -1900), (45.8, -4200), (47, 5115), (47, -750),
    (48.2, 1550), (48.2, 400), (49.4, 980), (50.6, -170), (51.8, 400), (53, -1035), (54.2, 1550),
    (56.6, 400), (57.8, -750), (59, 980), (60.2, 115), (62.6, 1840), (63.8, 400), (69.8, 1550),
    (69.8, 400), (77, -170), (77, -750), (85.4, 980), (86.6, 3740), (86.6, -170), (86.6, -750),
    (92.6, -170), (93.8, 2130), (93.8, -1610), (95, 980), (96.2, -750), (96.2, -2185), (97.4, 2415),
    (97.4, -3050), (98.6, -4200), (99.3, 1550), (99.8, 1840), (101, 400), (101, -1035), (99.8, -2470),
    (105.8, 1550), (107, 400),
]

# dense cores near zero (the solid black blobs)
core_mean_5e04 = [
    (0.3, 10), (0.7, -15), (1.2, 5), (1.8, -5), (2.2, 25), (2.8, -25), (3.3, 15), (3.8, -10), (4.2, 45),
    (4.8, -45), (5.3, 20), (5.8, -30), (6.2, 55), (6.8, -50), (7.2, 10), (7.8, -5), (8.2, -60), (8.8, 45),
    (9.2, -20), (9.8, 60), (10.2, 20), (10.8, -40), (11.2, -65), (11.8, 35), (12.2, 70), (12.8, -15),
    (13.2, 40), (13.8, -60), (14.2, 75), (14.8, 10), (15.2, -80), (15.8, 30), (16.2, -40), (16.8, 85),
    (17.2, -110), (17.8, 50), (18.2, 0), (18.8, -60), (19.2, 110), (19.8, -100), (20.2, 60), (20.8, -140),
    (21.2, 20), (21.8, 130), (22.2, -90), (22.8, 50), (23.2, -30), (23.8, 150), (24.2, -110), (24.8, 80),
    (25.2, -60), (25.8, 10), (26.2, 110), (26.8, -40), (1.5, -50), (3, 60), (5, -60), (7, 65),
    (0.5, 5), (1.5, -10), (2.5, 15), (3.5, -20), (4.5, 25), (5.5, -5), (6.5, 10), (7.5, -30), (8.5, 30),
    (9.5, -15), (10.5, 0), (11.5, 20), (12.5, -35), (13.5, 35), (14.5, -10), (15.5, 15), (16.5, -45),
    (17.5, 40), (18.5, -20), (19.5, 10), (20.5, 55), (21.5, -60), (22.5, 0), (23.5, -40), (24.5, 90),
    (25.5, -80), (1, 0), (2, 30), (3, -35), (4, 0), (6, -25), (8, 5), (10, 25), (12, -5), (14, -45),
    (16, 10), (18, 25), (20, -30), (22, 50), (24, -10),
]
core_mean_001 = [
    (0.3, 10), (0.7, -15), (1.2, 35), (1.8, -40), (2.2, 55), (2.8, -10), (3.3, 20), (3.8, -55), (4.2, 75),
    (4.8, 15), (5.3, -30), (5.8, 40), (6.2, -65), (6.8, 70), (7.2, -15), (7.8, 25), (8.2, -75), (8.8, 60),
    (9.2, -35), (9.8, 20), (10.2, 85), (10.8, -80), (11.2, 40), (11.8, -20), (12.2, 100), (12.8, -60),
    (13.2, -100), (13.8, 50), (14.2, 10), (14.8, -120), (15.2, 90), (15.8, -50), (16.2, 120), (16.8, -140),
    (17.2, 30), (17.8, -90), (18.2, 100), (18.8, -20), (19.2, -160), (19.8, 80), (20.2, -60), (20.8, 140),
    (21.2, -120), (21.8, 40), (22.2, -200), (22.8, 90), (23.2, -80), (23.8, 150), (24.2, 20), (25, -100),
    (0.5, 5), (1.5, -15), (2.5, 20), (3.5, -25), (4.5, 30), (5.5, -5), (6.5, 10), (7.5, -35), (8.5, 35),
    (9.5, -15), (10.5, 0), (11.5, 25), (12.5, -40), (13.5, 40), (14.5, -10), (15.5, 15), (16.5, -55),
    (17.5, 45), (18.5, -20), (19.5, 10), (1, 0), (2, 35), (3, -40), (4, 0), (6, -30), (8, 5), (10, 30),
    (12, -5), (14, -50), (16, 10), (18, 30), (20, -40), (21, 60), (22, -20),
]
core_mean_005 = [
    (0.3, 20), (0.7, -30), (1.2, 90), (1.8, -100), (2.2, 160), (2.8, -150), (3.3, 40), (3.8, -60),
    (4.2, 200), (4.8, -190), (5.3, 120), (5.8, -20), (6.2, -210), (6.8, 230), (7.2, 50), (7.8, -130),
    (8.2, 260), (8.8, -240), (9.2, 140), (9.8, 10), (10.2, -170), (10.8, 300), (11.2, -300), (11.8, 70),
    (12.2, 180), (12.8, -220), (13.2, 330), (13.8, -40), (14.2, 240), (14.8, -320), (15.2, 100),
    (15.8, -150), (16.2, 280), (16.8, -280), (17.2, 20), (17.8, 350), (18.2, -200), (18.8, 150),
    (19.2, -350), (19.8, 260), (20.2, -100), (20.8, 50), (21.2, 200), (21.8, -220), (22.2, 400), (22.8, -50),
    (23.2, -300), (23.8, 130), (24.2, 320), (24.8, -180), (25.2, 220), (25.8, -400), (26.2, 80),
    (27.2, -60), (2, 250), (3.5, -270), (5, 280), (6.5, -290), (8, 300),
    (0.5, -100), (1, 100), (1.5, 0), (2, -150), (2.5, 150), (3, 0), (3.5, -200), (4, 200), (4.5, -80),
    (5, 80), (5.5, -160), (6, 160), (6.5, -40), (7, 40), (7.5, -200), (8, 200), (8.5, -100), (9, 100),
    (9.5, -180), (10, 180), (1, -200), (2, 200), (3, -250), (4, 100), (5, -100), (6, 0), (7, -120),
    (8, -20), (9, 30), (10, -60), (11, 0), (12, 150), (13, -100), (14, 50), (0.5, 50), (2.5, -50),
    (4.5, 60), (6.5, -60), (8.5, 70), (10.5, -70),
]
core_mean_01 = [
    (0.3, 20), (0.7, -30), (1.2, 100), (1.8, -110), (2.2, 180), (2.8, -170), (3.3, 50), (3.8, -60),
    (4.2, 230), (4.8, -220), (5.3, 130), (5.8, -20), (6.2, -240), (6.8, 260), (7.2, 60), (7.8, -140),
    (8.2, 280), (8.8, -270), (9.2, 150), (9.8, 10), (10.2, -190), (10.8, 220), (11.2, -120), (11.8, 60),
    (12.2, 170), (12.8, -100), (0.5, 250), (1.5, -260), (2.5, 300), (3.5, -320), (4.5, 330), (5.5, -310),
    (6.5, 150), (7.5, -250), (8.5, -80), (9.5, 250), (10.5, -300), (11.5, 300), (1, 170), (2, -200),
    (3, 120), (4, -150), (5, 30), (6, 200), (7, -180), (8, 100), (9, -200), (10, 120), (11, -30),
    (12, -250), (13.5, 50), (14.5, -150), (15.5, 200),
    (0.5, -110), (1, 110), (1.5, 0), (2, -170), (2.5, 170), (3, 0), (3.5, -220), (4, 220), (4.5, -90),
    (5, 90), (5.5, -180), (6, 180), (6.5, -40), (7, 40), (7.5, -210), (8, 210), (8.5, -110), (9, 110),
    (9.5, -190), (10, 190), (10.5, 0), (11, -80), (11.5, 80), (12, 0), (1, -230), (2, 230), (3, -260),
    (4, 120), (5, -120), (6, 0), (7, -130), (8, -20), (9, 30), (10, -60), (0.5, 60), (2.5, -60), (4.5, 60),
    (6.5, -70), (8.5, 70), (10.5, -150), (11.5, 150),
]
core_mean_05 = [
    (0.3, 20), (0.7, -30), (1.2, 90), (1.8, -100), (2.2, 160), (2.8, -150), (3.3, 40), (3.8, -60),
    (4.2, 200), (4.8, -190), (5.3, 120), (5.8, -20), (6.2, -210), (6.8, 230), (7.2, 50), (7.8, -130),
    (8.2, 240), (8.8, -230), (9.2, 140), (9.8, 10), (10.2, -170), (10.8, 200), (11.2, -100), (11.8, 60),
    (0.5, 220), (1.5, -230), (2.5, 270), (3.5, -280), (4.5, 290), (5.5, -270), (6.5, 130), (7.5, -220),
    (8.5, -70), (9.5, 220), (10.5, -250), (11.5, 250), (1, 150), (2, -180), (3, 100), (4, -130), (5, 30),
    (6, 180), (7, -160), (8, 90), (9, -180), (10, 110), (11, -30), (12, -200), (13, 80),
    (0.5, -100), (1, 100), (1.5, 0), (2, -150), (2.5, 150), (3, 0), (3.5, -200), (4, 200), (4.5, -80),
    (5, 80), (5.5, -160), (6, 160), (6.5, -40), (7, 40), (7.5, -190), (8, 190), (8.5, -100), (9, 100),
    (9.5, -170), (10, 170), (10.5, 0), (11, -70), (11.5, 70), (12, 0), (1, -210), (2, 210), (3, -230),
    (4, 110), (5, -110), (6, 0), (7, -120), (8, -20), (9, 30), (10, -60), (0.5, 50), (2.5, -50), (4.5, 50),
    (6.5, -60), (8.5, 60), (10.5, -130),
]
core_lower_5e04 = [
    (0.3, 10), (0.7, -20), (1.2, 50), (1.8, -70), (2.2, 60), (2.8, -40), (3.3, 90), (3.8, -120),
    (4.2, 110), (4.8, -60), (5.3, 140), (5.8, -150), (6.2, 30), (6.8, 170), (7.2, -180), (7.8, 60),
    (8.2, -20), (8.8, 200), (9.2, -210), (9.8, 80), (10.2, 230), (10.8, -150), (11.2, 50), (11.8, -240),
    (12.2, 250), (12.8, -60), (13.2, 120), (13.8, -260), (14.2, 270), (14.8, -180), (15.2, 0), (15.8, 180),
    (16.2, -320), (16.8, 220), (17.2, -100), (17.8, 330), (18.2, -200), (18.8, 50), (19.2, 260),
    (19.8, -280), (20.2, 150), (20.8, -30), (21.2, 320), (21.8, -220), (22.2, 100), (22.8, -380),
    (23.2, 280), (23.8, -100), (24.2, 380), (24.8, -200), (25.2, 50), (25.8, 300), (26.2, -350),
    (26.8, 150), (27.5, -200),
    (0.5, 0), (1, 20), (1.5, -30), (2, 40), (2.5, -20), (3, 60), (3.5, -70), (4, 80), (4.5, -30), (5, 100),
    (5.5, -100), (6, 20), (6.5, 120), (7, -130), (7.5, 40), (8, -150), (8.5, 150), (9, -50), (9.5, 170),
    (10, -170), (10.5, 60), (11, 190), (11.5, -190), (12, 0), (12.5, 210), (13, -210), (13.5, 80),
    (14, -80), (14.5, 230), (15, -230), (16, 0), (17, 150), (18, -150), (19, 250), (20, -250), (21, 50),
    (22, -50), (23, 200), (24, -200), (25, 100),
]
core_lower_001 = [
    (0.3, 10), (0.7, -25), (1.2, 60), (1.8, -80), (2.2, 70), (2.8, -50), (3.3, 110), (3.8, -130),
    (4.2, 130), (4.8, -70), (5.3, 160), (5.8, -170), (6.2, 40), (6.8, 190), (7.2, -200), (7.8, 70),
    (8.2, -30), (8.8, 230), (9.2, -230), (9.8, 90), (10.2, 250), (10.8, -170), (11.2, 60), (11.8, -260),
    (12.2, 270), (12.8, -70), (13.2, 140), (13.8, -280), (14.2, 290), (14.8, -200), (15.2, 0), (15.8, 200),
    (16.2, -300), (16.8, 250), (17.2, -120), (17.8, 320), (18.2, -220), (18.8, 60), (19.2, 280),
    (19.8, -300), (20.2, 160), (20.8, -40), (21.2, 330), (21.8, -240), (22.2, 110), (23, -200),
    (24.5, 250), (26, -100), (28, 150), (30, -250),
    (0.5, 0), (1, 25), (1.5, -35), (2, 45), (2.5, -25), (3, 70), (3.5, -80), (4, 90), (4.5, -35), (5, 110),
    (5.5, -110), (6, 25), (6.5, 130), (7, -140), (7.5, 45), (8, -160), (8.5, 160), (9, -55), (9.5, 180),
    (10, -180), (10.5, 65), (11, 200), (11.5, -200), (12, 0), (12.5, 220), (13, -220), (13.5, 85),
    (14, -85), (14.5, 240), (15, -240), (16, 0), (17, 160), (18, -160), (19, 260), (20, -260), (21, 60),
    (22, -60),
]
core_lower_005 = [
    (0.3, 10), (0.7, -20), (1.2, 50), (1.8, -70), (2.2, 60), (2.8, -40), (3.3, 100), (3.8, -120),
    (4.2, 120), (4.8, -60), (5.3, 150), (5.8, -160), (6.2, 30), (6.8, 180), (7.2, -190), (7.8, 60),
    (8.2, -20), (8.8, 220), (9.2, -220), (9.8, 80), (10.2, 240), (10.8, -160), (11.2, 50), (11.8, -250),
    (12.2, 260), (12.8, -60), (13.2, 130), (13.8, -270), (14.2, 280), (14.8, -190), (15.2, 0), (15.8, 200),
    (16.2, -330), (16.8, 400), (17.2, -150), (17.8, 550), (18.2, 100), (18.8, -400), (19.2, 300),
    (19.8, -250), (20.2, 600), (20.8, 0), (21.2, -450), (21.8, 350), (22.2, 700), (22.8, -200),
    (23.2, 150), (23.8, 500), (24.2, -350), (24.8, 250), (25.2, -100), (25.8, 650), (26.2, 300),
    (27, -300), (28, 400),
    (0.5, 0), (1, 20), (1.5, -30), (2, 40), (2.5, -20), (3, 65), (3.5, -75), (4, 85), (4.5, -30), (5, 105),
    (5.5, -105), (6, 20), (6.5, 125), (7, -135), (7.5, 40), (8, -155), (8.5, 155), (9, -50), (9.5, 175),
    (10, -175), (10.5, 60), (11, 195), (11.5, -195), (12, 0), (12.5, 215), (13, -215), (13.5, 80),
    (14, -80), (14.5, 235), (15, -235),
]
core_lower_01 = [
    (0.3, 10), (0.7, -25), (1.2, 60), (1.8, -80), (2.2, 70), (2.8, -50), (3.3, 120), (3.8, -140),
    (4.2, 140), (4.8, -70), (5.3, 170), (5.8, -180), (6.2, 40), (6.8, 200), (7.2, -210), (7.8, 70),
    (8.2, -30), (8.8, 240), (9.2, -240), (9.8, 90), (10.2, 260), (10.8, -180), (11.2, 60), (11.8, -270),
    (12.2, 280), (12.8, -70), (13.2, 140), (13.8, -280), (14.2, 300), (14.8, -200), (15.5, 0), (16.5, 250),
    (17.5, -150), (2, 150), (3, -200), (4.5, 250), (6, -280), (7.5, 300), (9, 120), (10.5, -120), (12, 0),
    (0.5, 0), (1, 30), (1.5, -40), (2, 50), (2.5, -30), (3, 80), (3.5, -90), (4, 100), (4.5, -40), (5, 120),
    (5.5, -120), (6, 30), (6.5, 150), (7, -150), (7.5, 50), (8, -170), (8.5, 170), (9, -60), (9.5, 200),
    (10, -200), (10.5, 70), (11, 220), (11.5, -220), (12.5, 240), (13, -240), (13.5, 90), (14, -90),
]
core_lower_05 = [
    (0.3, 10), (0.7, -25), (1.2, 60), (1.8, -80), (2.2, 70), (2.8, -50), (3.3, 120), (3.8, -140),
    (4.2, 140), (4.8, -70), (5.3, 170), (5.8, -180), (6.2, 40), (6.8, 200), (7.2, -210), (7.8, 70),
    (8.2, -30), (8.8, 240), (9.2, -240), (9.8, 90), (10.2, 260), (10.8, -180), (11.2, 60), (11.8, -270),
    (12.2, 280), (12.8, -70), (2, 150), (3, -200), (4.5, 250), (6, -280), (7.5, 300), (9, 120),
    (10.5, -120), (12, 0), (13.5, 200), (14.5, -250), (15.5, 100),
    (0.5, 0), (1, 30), (1.5, -40), (2, 50), (2.5, -30), (3, 80), (3.5, -90), (4, 100), (4.5, -40), (5, 120),
    (5.5, -120), (6, 30), (6.5, 150), (7, -150), (7.5, 50), (8, -170), (8.5, 170), (9, -60), (9.5, 200),
    (10, -200), (10.5, 70), (11, 220), (11.5, -220), (12.5, 240), (13, -240), (13.5, 90), (14, -90),
]
core_upper_5e04 = [
    (0.3, 500), (0.3, -500), (0.6, 2000), (0.6, -2200), (0.9, 0), (1.2, 1200), (1.2, -1300), (1.5, 2800),
    (1.5, -2600), (1.8, 500), (2.1, -800), (2.4, 1700), (2.4, -1800), (2.7, 3200), (2.7, -3200), (3, -300),
    (3.3, 900), (3.3, -2000), (3.6, 2300), (3.9, -900), (4.2, 1200), (4.2, -2700), (4.5, 300), (4.8, 2900),
    (4.8, -1500), (5.1, -300), (5.4, 1600), (5.7, -2500), (6, 600), (6.3, 2600), (6.6, -1000), (6.9, 1300),
    (7.2, -1900), (7.5, 0), (7.8, 2000), (8.1, -700), (8.4, 900), (8.7, -2200), (9, 1400), (9.5, -400),
    (10, 2100), (10.5, -1500), (11, 500), (11.5, -900), (12, 1800), (13, -1800), (13.5, 800), (14, -300),
    (14.5, 1500), (15.5, -2300), (16, 300), (16.5, -1100), (17.5, 1800), (18, -500), (18.5, 2600),
    (19, -2500), (19.5, 1200), (20.5, -300), (21.5, 2900), (22, -1800), (22.5, 600), (23.5, -1100),
    (24, 1900), (25, -3500), (25.5, 3200), (26, -800),
    (0.3, 1000), (0.3, -1000), (0.6, 0), (0.9, 1800), (0.9, -1800), (1.2, 400), (1.2, -400), (1.5, 2300),
    (1.5, -2300), (1.8, 1200), (1.8, -1200), (2.1, 0), (2.4, 2600), (2.4, -2600), (2.7, 700), (2.7, -700),
    (3, 1800), (3, -1800), (3.3, 0), (3.6, 1200), (3.6, -1200), (3.9, 2400), (3.9, -2400), (4.2, 500),
    (4.5, -500), (4.8, 1600), (5.1, -1600), (5.4, 0), (5.7, 2200), (6, -2200), (6.3, 900), (6.6, -900),
    (6.9, 1800), (7.2, -1400), (7.5, 300), (7.8, -300), (8.1, 1200), (8.4, -1900), (9, 700), (10, -800),
]
core_upper_001 = [
    (0.3, 600), (0.3, -700), (0.6, 2400), (0.6, -2600), (0.9, 100), (1.2, 1500), (1.2, -1600), (1.5, 3300),
    (1.5, -3100), (1.8, 600), (2.1, -1000), (2.4, 2100), (2.4, -2200), (2.7, 3700), (2.7, -3600),
    (3, -300), (3.3, 1100), (3.3, -2400), (3.6, 2800), (3.9, -1100), (4.2, 1500), (4.2, -3200), (4.5, 300),
    (4.8, 3400), (4.8, -1800), (5.1, -400), (5.4, 2000), (5.7, -3000), (6, 700), (6.3, 3000), (6.6, -1200),
    (6.9, 1500), (7.2, -2300), (7.5, 0), (7.8, 2400), (8.1, -800), (8.4, 1100), (8.7, -2600), (9, 1700),
    (9.5, -500), (10, 2500), (10.5, -1800), (11, 600), (11.5, -3000), (12, 2200), (13, -2000), (14, 1000),
    (15, -3500), (16, 2800), (17, -1000), (18, 500), (19, -2800), (20, 1900), (21, -1400), (23, -3200),
    (26, -200), (29, 900),
    (0.2, 1200), (0.2, -1200), (0.4, 0), (0.6, 2500), (0.6, -2500), (0.8, 600), (0.8, -600), (1, 3100),
    (1, -3100), (1.2, 1600), (1.2, -1600), (1.4, 0), (1.6, 2800), (1.6, -2800), (1.8, 900), (1.8, -900),
    (2, 2000), (2, -2000), (2.2, 300), (2.4, 1300), (2.4, -1300), (2.6, 3200), (2.6, -3200), (2.8, 600),
    (3, -600), (3.2, 1900), (3.4, -1900), (3.6, 0), (3.8, 2500), (4, -2500), (4.2, 1000), (4.4, -1000),
    (4.6, 2000), (4.8, -1500), (5, 400), (5.5, -300), (6, 1300), (6.5, -2000), (7, 800), (8, -900),
]
core_upper_005 = [
    (0.3, 500), (0.3, -600), (0.6, 2200), (0.6, -2300), (0.9, 0), (1.2, 1300), (1.2, -1400), (1.5, 3000),
    (1.5, -2900), (1.8, 500), (2.1, -900), (2.4, 1900), (2.4, -2000), (2.7, 3500), (2.7, -3400), (3, -300),
    (3.3, 1000), (3.3, -2200), (3.6, 2600), (3.9, -1000), (4.2, 1300), (4.2, -3000), (4.5, 300),
    (4.8, 3100), (4.8, -1600), (5.1, -300), (5.4, 1800), (5.7, -2700), (6, 600), (6.3, 2800), (6.6, -1100),
    (6.9, 1400), (7.2, -2100), (7.5, 0), (7.8, 2200), (8.1, -700), (8.4, 1000), (8.7, -2400), (9, 1500),
    (9.5, -500), (10, 2300), (10.5, -1600), (11, 500), (11.5, -2800), (12, 2000), (12.5, -900), (13, 3100),
    (13.5, -1900), (14, 700), (14.5, -3200), (15, 1800), (15.5, -400), (16, 2600), (16.5, -2300),
    (17, 1100), (17.5, -1200), (18, 3300), (18.5, -3500), (19, 400), (19.5, 2200), (20, -2000), (20.5, 900),
    (21, -3000), (21.5, 1600), (22, -600), (22.5, 2800), (23, -1700), (23.5, 300), (24, -2500),
    (24.5, 1300), (25, -3800), (25.5, 2500), (26, -1000), (27, 800),
    (0.3, 1100), (0.3, -1100), (0.6, 0), (0.9, 2000), (0.9, -2000), (1.2, 400), (1.2, -400), (1.5, 2500),
    (1.5, -2500), (1.8, 1300), (1.8, -1300), (2.1, 0), (2.4, 2800), (2.4, -2800), (2.7, 800), (2.7, -800),
    (3, 2000), (3, -2000), (3.3, 0), (3.6, 1300), (3.6, -1300), (3.9, 2600), (3.9, -2600), (4.2, 500),
    (4.5, -500), (4.8, 1800), (5.1, -1800), (5.4, 0), (5.7, 2400), (6, -2400), (6.3, 1000), (6.6, -1000),
    (6.9, 2000), (7.2, -1500), (7.5, 300), (7.8, -300), (8.1, 1300), (8.4, -2100), (9, 800), (10, -900),
]
core_upper_01 = [
    (0.3, 300), (0.3, -400), (0.6, 1400), (0.6, -1500), (0.9, 0), (1.2, 800), (1.2, -900), (1.5, 2000),
    (1.5, -1900), (1.8, 300), (2.1, -600), (2.4, 1200), (2.4, -1300), (2.7, 2300), (2.7, -2200), (3, -200),
    (3.3, 700), (3.3, -1400), (3.6, 1700), (3.9, -600), (4.2, 900), (4.2, -2000), (4.5, 200), (4.8, 2000),
    (4.8, -1000), (5.1, -200), (5.4, 1200), (5.7, -1800), (6, 400), (6.3, 1800), (6.6, -700), (6.9, 900),
    (7.2, -1400), (7.5, 0), (7.8, 1500), (8.1, -500), (8.4, 700), (8.7, -1600), (9, 1000), (9.5, -300),
    (10, 1500), (10.5, -1000), (11, 300), (11.5, -1900), (12, 1300), (12.5, -600), (13, 2000),
    (13.5, -1300), (14, 500), (15, -1700), (16, 1100), (17, -500),
    (0.5, 700), (0.5, -700), (1, 0), (1.5, 1300), (1.5, -1300), (2, 400), (2, -400), (2.5, 1700),
    (2.5, -1700), (3, 900), (3, -900), (3.5, 0), (4, 1500), (4, -1500), (4.5, 500), (5, -500), (5.5, 1100),
    (6, -1100), (6.5, 0), (7, 1400), (7.5, -1400), (8, 600), (8.5, -600), (9, 1200), (9.5, -1200),
    (10, 200), (10.5, -200), (11, 900), (11.5, -900), (12, 400), (12.5, -1500), (13.5, 700),
]
core_upper_05 = [
    (0.3, 200), (0.3, -200), (0.6, 800), (0.6, -800), (0.9, 0), (1.2, 500), (1.2, -500), (1.5, 1100),
    (1.5, -1100), (1.8, 200), (2.1, -300), (2.4, 700), (2.4, -700), (2.7, 1300), (2.7, -1200), (3, -100),
    (3.3, 400), (3.3, -800), (3.6, 1000), (3.9, -400), (4.2, 500), (4.2, -1200), (4.5, 100), (4.8, 1200),
    (4.8, -600), (5.1, -100), (5.4, 700), (5.7, -1000), (6, 200), (6.3, 1000), (6.6, -400), (6.9, 500),
    (7.2, -800), (7.5, 0), (7.8, 900), (8.1, -300), (8.4, 400), (8.7, -900), (9, 600), (9.5, -200),
    (10, 900), (10.5, -600), (11, 200), (11.5, -1000), (12, 800), (12.5, -300), (13, 500), (14, -800),
    (15, 300),
    (0.5, 400), (0.5, -400), (1, 0), (1.5, 700), (1.5, -700), (2, 200), (2, -200), (2.5, 900), (2.5, -900),
    (3, 500), (3, -500), (3.5, 0), (4, 800), (4, -800), (4.5, 300), (5, -300), (5.5, 600), (6, -600),
    (6.5, 0), (7, 700), (7.5, -700), (8, 300), (8.5, -300), (9, 600), (9.5, -600), (10, 100), (10.5, -100),
    (11, 500), (11.5, -500), (12, 200), (12.5, -700),
]

panel_rows = [
    [mean_5e04, mean_001, mean_005, mean_01, mean_05],
    [lower_5e04, lower_001, lower_005, lower_01, lower_05],
    [upper_5e04, upper_001, upper_005, upper_01, upper_05],
]
core_rows = [
    [core_mean_5e04, core_mean_001, core_mean_005, core_mean_01, core_mean_05],
    [core_lower_5e04, core_lower_001, core_lower_005, core_lower_01, core_lower_05],
    [core_upper_5e04, core_upper_001, core_upper_005, core_upper_01, core_upper_05],
]

x_ticks = [0, 30000, 60000, 90000]
x_minor = [15000, 45000, 75000, 105000]
y_ticks = [
    [-1000, 0, 1000, 2000],
    [-4000, -2000, 0, 2000],
    [-10000, -5000, 0, 5000, 10000, 15000],
]
y_minor = [
    [-1500, -500, 500, 1500],
    [-3000, -1000, 1000, 3000],
    [-12500, -7500, -2500, 2500, 7500, 12500],
]
y_limits = [(-1870, 2153), (-4098, 3158), (-15120, 15350)]
x_limits = (-5544, 114700)

W, H = 1041, 746
fig = plt.figure(figsize=(W / 100, H / 100), dpi=100)

col_left = [130 + 179 * c for c in range(5)]
pw = 167
row_top = [82.7, 271.5, 460.7]
ph = 175

grid_col = '#EBEBEB'
tick_col = '#333333'
label_col = '#4D4D4D'

def fmt(v):
    return str(v).replace('-', '\u2212')

for r in range(3):
    for c in range(5):
        ax = fig.add_axes([col_left[c] / W, 1 - (row_top[r] + ph) / H, pw / W, ph / H])
        pts = panel_rows[r][c] + core_rows[r][c]
        xs = [p[0] * 1000 for p in pts]
        ys = [p[1] for p in pts]
        ax.scatter(xs, ys, s=12, color='black', alpha=0.5, linewidths=0, zorder=3)

        ax.set_xlim(*x_limits)
        ax.set_ylim(*y_limits[r])
        ax.xaxis.set_major_locator(FixedLocator(x_ticks))
        ax.xaxis.set_minor_locator(FixedLocator(x_minor))
        ax.yaxis.set_major_locator(FixedLocator(y_ticks[r]))
        ax.yaxis.set_minor_locator(FixedLocator(y_minor[r]))
        ax.set_axisbelow(True)
        ax.grid(which='major', color=grid_col, linewidth=0.9)
        ax.grid(which='minor', color=grid_col, linewidth=0.45)
        ax.tick_params(which='minor', length=0)

        for side in ['top', 'right', 'left', 'bottom']:
            ax.spines[side].set_visible(False)

        if c == 0:
            ax.spines['left'].set_visible(True)
            ax.spines['left'].set_linewidth(1.5)
            ax.spines['left'].set_color('black')
            ax.yaxis.set_major_formatter(FixedFormatter([fmt(v) for v in y_ticks[r]]))
            ax.tick_params(axis='y', which='major', length=3.5, width=1.0, color=tick_col,
                           labelsize=12.8, labelcolor=label_col, pad=2)
        else:
            ax.tick_params(axis='y', which='both', left=False, labelleft=False)

        if r == 2:
            ax.spines['bottom'].set_visible(True)
            ax.spines['bottom'].set_linewidth(1.5)
            ax.spines['bottom'].set_color('black')
            ax.set_xticklabels([str(v) for v in x_ticks], rotation=45, ha='right',
                               rotation_mode='anchor')
            ax.tick_params(axis='x', which='major', length=3.5, width=1.0, color=tick_col,
                           labelsize=12.8, labelcolor=label_col, pad=3)
        else:
            ax.tick_params(axis='x', which='both', bottom=False, labelbottom=False)

        if r == 0:
            fig.text((col_left[c] + pw / 2) / W, 1 - 63 / H, quantiles[c], ha='center', va='center',
                     fontsize=12.8, color='#1A1A1A')
        if c == 4:
            fig.text(1030 / W, 1 - (row_top[r] + ph / 2) / H, stats[r], ha='center', va='center',
                     rotation=-90, fontsize=12.8, color='#1A1A1A')

mid_x = (col_left[0] + col_left[4] + pw) / 2 / W
fig.text(mid_x, 1 - 17 / H, 'Quantile', ha='center', va='center', fontsize=16)
fig.text(mid_x, 1 - 728 / H, 'Mean of negative binomial', ha='center', va='center', fontsize=16)
fig.text(22 / W, 1 - 358 / H, 'Error', ha='center', va='center', rotation=90, fontsize=16)

fig.savefig('out.png', dpi=100)
